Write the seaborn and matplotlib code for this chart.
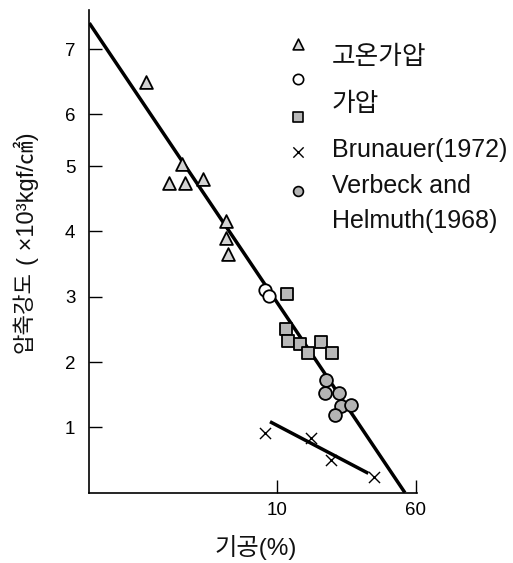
import numpy as np
import pandas as pd
import matplotlib
matplotlib.use("Agg")
import matplotlib.pyplot as plt
import seaborn as sns

# ---- data -------------------------------------------------------------
# 고온가압 (hot pressed)
hp_porosity = [1.82, 2.92, 2.46, 3.04, 3.84, 5.13, 5.13, 5.26]
hp_strength = [6.50, 5.04, 4.74, 4.74, 4.81, 4.16, 3.90, 3.65]

# 가압 (pressed) - open circles and squares
pr_circle_porosity = [8.53, 8.98]
pr_circle_strength = [3.10, 3.01]
pr_square_porosity = [11.3, 11.15, 11.44, 13.4, 14.8, 17.5, 20.2]
pr_square_strength = [3.04, 2.50, 2.33, 2.28, 2.14, 2.30, 2.14]

# Brunauer (1972)
br_porosity = [8.53, 15.5, 20.0, 35.0]
br_strength = [0.91, 0.83, 0.50, 0.245]

# Verbeck and Helmuth (1968)
vh_porosity = [18.8, 18.6, 22.2, 22.8, 25.9, 21.1]
vh_strength = [1.72, 1.53, 1.52, 1.33, 1.35, 1.19]

# trend lines (end points)
main_fit_porosity = [0.877, 52.2]
main_fit_strength = [7.40, 0.0]
br_fit_porosity = [9.10, 32.5]
br_fit_strength = [1.087, 0.297]

x_ticks = [10, 60]
y_ticks = [1, 2, 3, 4, 5, 6, 7]

# ---- style ------------------------------------------------------------
sns.set_style("ticks")
plt.rcParams["font.family"] = ["Liberation Sans", "Noto Sans CJK KR"]

W, H = 513, 563
fig = plt.figure(figsize=(W / 100, H / 100), dpi=100)
ax = fig.add_axes([89.3 / W, (H - 492.7) / H, 327.4 / W, 482.7 / H])

# strength axis as drawn: evenly spaced up to 5, narrower step between 5 and 6
_vals = [-10.0, 0, 1, 2, 3, 4, 5, 6, 7, 20.0]
_pos = [-10.0, 0, 1, 2, 3, 4, 5, 5.796, 6.791, 19.791]


def _fwd(y):
    return np.interp(y, _vals, _pos)


def _inv(p):
    return np.interp(p, _pos, _vals)


ax.set_xscale("log")
ax.set_yscale("function", functions=(_fwd, _inv))

line_kw = dict(color="black", linewidth=2.5, zorder=2, solid_capstyle="butt")
ax.plot(main_fit_porosity, main_fit_strength, **line_kw)
ax.plot(br_fit_porosity, br_fit_strength, **line_kw)

edge_kw = dict(edgecolor="black", linewidth=1.3, zorder=3, legend=False)
sns.scatterplot(x=hp_porosity, y=hp_strength, marker="^", s=85,
                color="#d2d2d2", ax=ax, **edge_kw)
sns.scatterplot(x=pr_circle_porosity, y=pr_circle_strength, marker="o", s=80,
                color="white", ax=ax, **edge_kw)
sns.scatterplot(x=pr_square_porosity, y=pr_square_strength, marker="s", s=80,
                color="#b8b8b8", ax=ax, **edge_kw)
sns.scatterplot(x=vh_porosity, y=vh_strength, marker="o", s=85,
                color="#b4b4b4", ax=ax, **edge_kw)
ax.scatter(br_porosity, br_strength, marker="x", s=64, color="black",
           linewidths=1.0, zorder=3)

ax.set_xlim(0.877, 60.8)
ax.set_ylim(0, 7.6)

ax.set_xticks(x_ticks)
ax.set_xticklabels([str(t) for t in x_ticks])
ax.xaxis.set_minor_locator(matplotlib.ticker.NullLocator())
ax.set_yticks(y_ticks)
ax.set_yticklabels([str(t) for t in y_ticks])
ax.yaxis.set_minor_locator(matplotlib.ticker.NullLocator())

ax.tick_params(axis="both", direction="in", length=9.5, width=1.0,
               labelsize=13.5, colors="black")
ax.tick_params(axis="y", pad=10)
ax.tick_params(axis="x", pad=7)

sns.despine(ax=ax)
for side in ("left", "bottom"):
    ax.spines[side].set_linewidth(1.2)
    ax.spines[side].set_color("black")

# axis titles
fig.text(25 / W, (H - 353) / H, "압축강도", rotation=90, ha="center",
         va="bottom", fontsize=16, color="#111111")
fig.text(26 / W, (H - 265) / H, "( ×10³kgf/㎠)", rotation=90, ha="center",
         va="bottom", fontsize=17, color="#111111")
ax.set_xlabel("기공(%)", fontsize=17.5, color="#111111")
ax.xaxis.set_label_coords(0.509, -0.088)

# ---- key ---------------------------------------------------------------
mx, tx = 0.636, 0.740
key_markers = [
    (0.9296, "^", "#d2d2d2", 60),
    (0.857, "o", "white", 55),
    (0.779, "s", "#b8b8b8", 50),
    (0.7065, "x", "black", 55),
    (0.625, "o", "#b4b4b4", 50),
]
for ky, mk, fc, sz in key_markers:
    if mk == "x":
        ax.scatter([mx], [ky], marker=mk, s=sz, color="black", linewidths=1.0,
                   transform=ax.transAxes, clip_on=False, zorder=4)
    else:
        ax.scatter([mx], [ky], marker=mk, s=sz, facecolor=fc, edgecolor="black",
                   linewidths=1.2, transform=ax.transAxes, clip_on=False, zorder=4)

key_texts = [
    (0.903, "고온가압", 18.5),
    (0.806, "가압", 18.5),
    (0.711, "Brunauer(1972)", 18),
    (0.635, "Verbeck and", 18),
    (0.562, "Helmuth(1968)", 18),
]
for ky, label, fs in key_texts:
    ax.text(tx, ky, label, transform=ax.transAxes, ha="left", va="center",
            fontsize=fs, color="#111111")

fig.savefig("out.png", dpi=100)
